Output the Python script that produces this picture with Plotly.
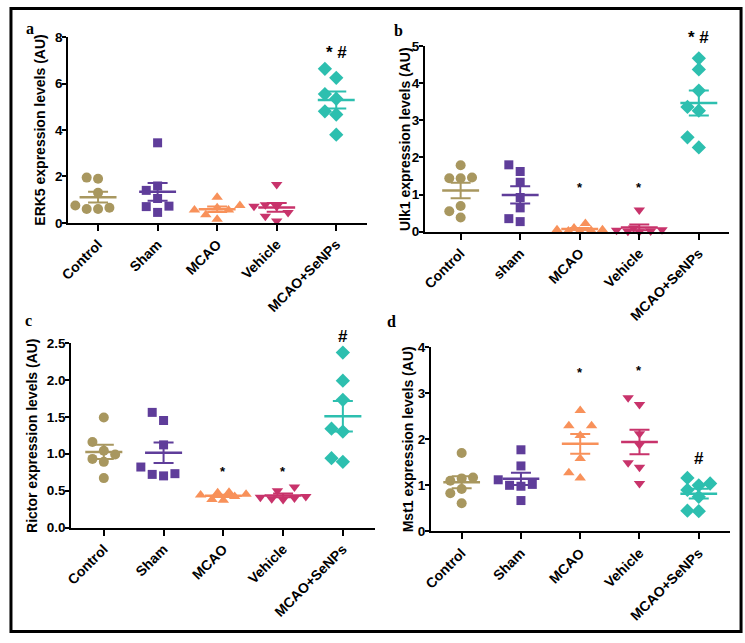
import numpy as np
import plotly.graph_objects as go

# ---------------- data ----------------
groups = ["Control", "Sham", "MCAO", "Vehicle", "MCAO+SeNPs"]
groups_b = ["Control", "sham", "MCAO", "Vehicle", "MCAO+SeNPs"]

erk5 = [
    [1.9, 1.95, 1.3, 0.75, 0.6, 0.65, 0.6],
    [3.45, 1.59, 1.4, 1.05, 0.72, 0.7, 0.45],
    [1.1, 0.75, 0.65, 0.55, 0.55, 0.35, 0.15],
    [1.65, 0.78, 0.72, 0.7, 0.45, 0.28, 0.08],
    [6.64, 6.25, 5.55, 5.35, 4.81, 4.67, 3.8],
]
ulk1 = [
    [1.79, 1.44, 1.44, 1.46, 0.69, 0.55, 0.38],
    [1.8, 1.62, 1.33, 0.92, 0.64, 0.35, 0.27],
    [0.22, 0.1, 0.05, 0.05, 0.03, 0.02, 0.01],
    [0.58, 0.1, 0.05, 0.04, 0.02, 0.01, 0.0],
    [4.67, 4.37, 3.8, 3.36, 3.26, 2.54, 2.27],
]
rictor = [
    [1.49, 1.16, 1.04, 0.93, 0.99, 0.89, 0.67],
    [1.56, 1.45, 1.12, 0.82, 0.73, 0.70, 0.72],
    [0.48, 0.47, 0.45, 0.44, 0.42, 0.38, 0.37],
    [0.55, 0.5, 0.42, 0.41, 0.40, 0.39, 0.38],
    [2.37, 1.99, 1.73, 1.34, 1.30, 0.94, 0.89],
]
mst1 = [
    [1.7, 1.17, 1.15, 1.1, 0.92, 0.83, 0.61],
    [1.77, 1.42, 1.12, 1.02, 1.0, 0.98, 0.67],
    [2.62, 2.29, 2.29, 2.08, 1.58, 1.27, 1.16],
    [2.9, 2.75, 2.12, 1.88, 1.49, 1.39, 1.04],
    [1.16, 1.04, 1.0, 0.9, 0.75, 0.44, 0.45],
]

# significance marks: (group index, y level, text)
marks_a = [(4, 7.35, "* #")]
marks_b = [(2, 1.26, "*"), (3, 1.26, "*"), (4, 5.22, "* #")]
marks_c = [(2, 0.80, "*"), (3, 0.80, "*"), (4, 2.59, "#")]
marks_d = [(2, 3.52, "*"), (3, 3.55, "*"), (4, 1.59, "#")]

# ---------------- style ----------------
colors = ["#A8975F", "#5F3D9A", "#F8915A", "#C8336B", "#2DBFAF"]
symbols = ["circle", "square", "triangle-up", "triangle-down", "diamond"]
msizes = [10, 9, 10, 10, 11]
W, H = 745, 643
FONT = "Arial, Liberation Sans, sans-serif"

panels = [
    dict(letter="a", data=erk5, labels=groups, ytitle="ERK5 expression levels (AU)",
         yr=[0, 8], dtick=2, fmt="", px=[60, 362], py=[31, 221], xr=[-0.5, 4.51],
         marks=marks_a, letter_xy=(21, 22), title_x=31),
    dict(letter="b", data=ulk1, labels=groups_b, ytitle="Ulk1 expression levels (AU)",
         yr=[0, 5], dtick=1, fmt="", px=[421, 729], py=[40, 230], xr=[-0.6, 4.51],
         marks=marks_b, letter_xy=(394, 24), title_x=401),
    dict(letter="c", data=rictor, labels=groups, ytitle="Rictor expression levels (AU)",
         yr=[0, 2.5], dtick=0.5, fmt=".1f", px=[63, 370], py=[344, 533], xr=[-0.545, 4.53],
         marks=marks_c, letter_xy=(20, 321), title_x=24),
    dict(letter="d", data=mst1, labels=groups, ytitle="Mst1 expression levels (AU)",
         yr=[0, 4], dtick=1, fmt="", px=[427, 730], py=[348, 537], xr=[-0.52, 4.53],
         marks=marks_d, letter_xy=(387, 322), title_x=404),
]


def beeswarm(vals, ppu_y, ppu_x, step_px=11.5, thr=10.5):
    order = np.argsort(vals)
    placed = []
    offs = np.zeros(len(vals))
    ints = [0, -1, 1, -2, 2]
    halfs = [-0.5, 0.5, -1.5, 1.5]
    for idx in order:
        v = vals[idx]

        def mind(k):
            d = 1e9
            for (pv, pk) in placed:
                dd = np.hypot((v - pv) * ppu_y, (k - pk) * step_px)
                d = min(d, dd)
            return d
        chosen = None
        for k in ints:
            if mind(k) >= thr:
                chosen = k
                break
        if chosen is None:
            cands = ints + halfs
            chosen = max(cands, key=mind)
        placed.append((v, chosen))
        offs[idx] = chosen * step_px / ppu_x
    return offs


fig = go.Figure()
layout_axes = {}
annotations = []

for pi, p in enumerate(panels):
    n = pi + 1
    xa = "x" if n == 1 else f"x{n}"
    ya = "y" if n == 1 else f"y{n}"
    xdom = [p["px"][0] / W, p["px"][1] / W]
    ydom = [1 - p["py"][1] / H, 1 - p["py"][0] / H]
    ppu_y = (p["py"][1] - p["py"][0]) / (p["yr"][1] - p["yr"][0])
    ppu_x = (p["px"][1] - p["px"][0]) / (p["xr"][1] - p["xr"][0])

    for gi, vals in enumerate(p["data"]):
        vals = np.array(vals, dtype=float)
        offs = beeswarm(vals, ppu_y, ppu_x)
        m = vals.mean()
        sem = vals.std(ddof=1) / np.sqrt(len(vals))
        col = colors[gi]
        fig.add_trace(go.Scatter(
            x=gi + offs, y=vals, mode="markers", xaxis=xa, yaxis=ya,
            marker=dict(symbol=symbols[gi], color=col, size=msizes[gi], line=dict(width=0)),
            cliponaxis=False, showlegend=False, hoverinfo="skip"))
        fig.add_trace(go.Scatter(
            x=[gi - 0.31, gi + 0.31], y=[m, m], mode="lines", xaxis=xa, yaxis=ya,
            line=dict(color=col, width=2.5), cliponaxis=False, showlegend=False, hoverinfo="skip"))
        fig.add_trace(go.Scatter(
            x=[gi], y=[m], mode="markers", xaxis=xa, yaxis=ya,
            marker=dict(size=1, opacity=0),
            error_y=dict(type="data", array=[sem], color=col, thickness=2, width=10),
            cliponaxis=False, showlegend=False, hoverinfo="skip"))

    layout_axes["xaxis" + ("" if n == 1 else str(n))] = dict(
        domain=xdom, range=p["xr"], anchor=ya, tickmode="array",
        tickvals=list(range(5)), ticktext=p["labels"], tickangle=-45,
        showline=True, linecolor="black", linewidth=2, ticks="outside",
        ticklen=6, tickwidth=2, tickcolor="black", showgrid=False, zeroline=False,
        tickfont=dict(family=FONT, size=14, color="black", weight="bold"))
    layout_axes["yaxis" + ("" if n == 1 else str(n))] = dict(
        domain=ydom, range=p["yr"], anchor=xa, dtick=p["dtick"], tick0=0,
        tickformat=p["fmt"], showline=True, linecolor="black", linewidth=2,
        ticks="outside", ticklen=4, tickwidth=2, tickcolor="black",
        showgrid=False, zeroline=False, ticklabelstandoff=-3,
        tickfont=dict(family=FONT, size=13.5, color="black", weight="bold"))

    # y title
    annotations.append(dict(
        x=p["title_x"] / W, y=1 - (p["py"][0] + p["py"][1]) / 2 / H,
        xref="paper", yref="paper", text=p["ytitle"], textangle=-90,
        showarrow=False, xanchor="center", yanchor="middle",
        font=dict(family=FONT, size=14, color="black", weight="bold")))
    # panel letter
    annotations.append(dict(
        x=p["letter_xy"][0] / W, y=1 - p["letter_xy"][1] / H, xref="paper", yref="paper",
        text=p["letter"], showarrow=False, xanchor="center", yanchor="middle",
        font=dict(family="Liberation Serif, Times New Roman, serif", size=16,
                  color="black", weight="bold")))
    # significance marks (y converted to paper so marks above the range still show)
    for gi, yv, txt in p["marks"]:
        big = "#" in txt
        yp = ydom[0] + (yv - p["yr"][0]) / (p["yr"][1] - p["yr"][0]) * (ydom[1] - ydom[0])
        annotations.append(dict(
            x=gi, y=yp, xref=xa, yref="paper", text=txt, showarrow=False,
            xanchor="center", yanchor="middle", yshift=-3 if not big else 0,
            font=dict(family=FONT, size=17 if big else 13, color="black", weight="bold")))

fig.update_layout(
    width=W, height=H, margin=dict(l=0, r=0, t=0, b=0),
    paper_bgcolor="white", plot_bgcolor="white",
    annotations=annotations,
    shapes=[dict(type="rect", xref="paper", yref="paper", x0=2 / W, x1=741 / W,
                 y0=1 - 639.5 / H, y1=1 - 1.5 / H, line=dict(color="black", width=3))],
    **layout_axes)

fig.write_html("out.html", config={"displayModeBar": False},
               post_script="document.body.style.margin='0';")
